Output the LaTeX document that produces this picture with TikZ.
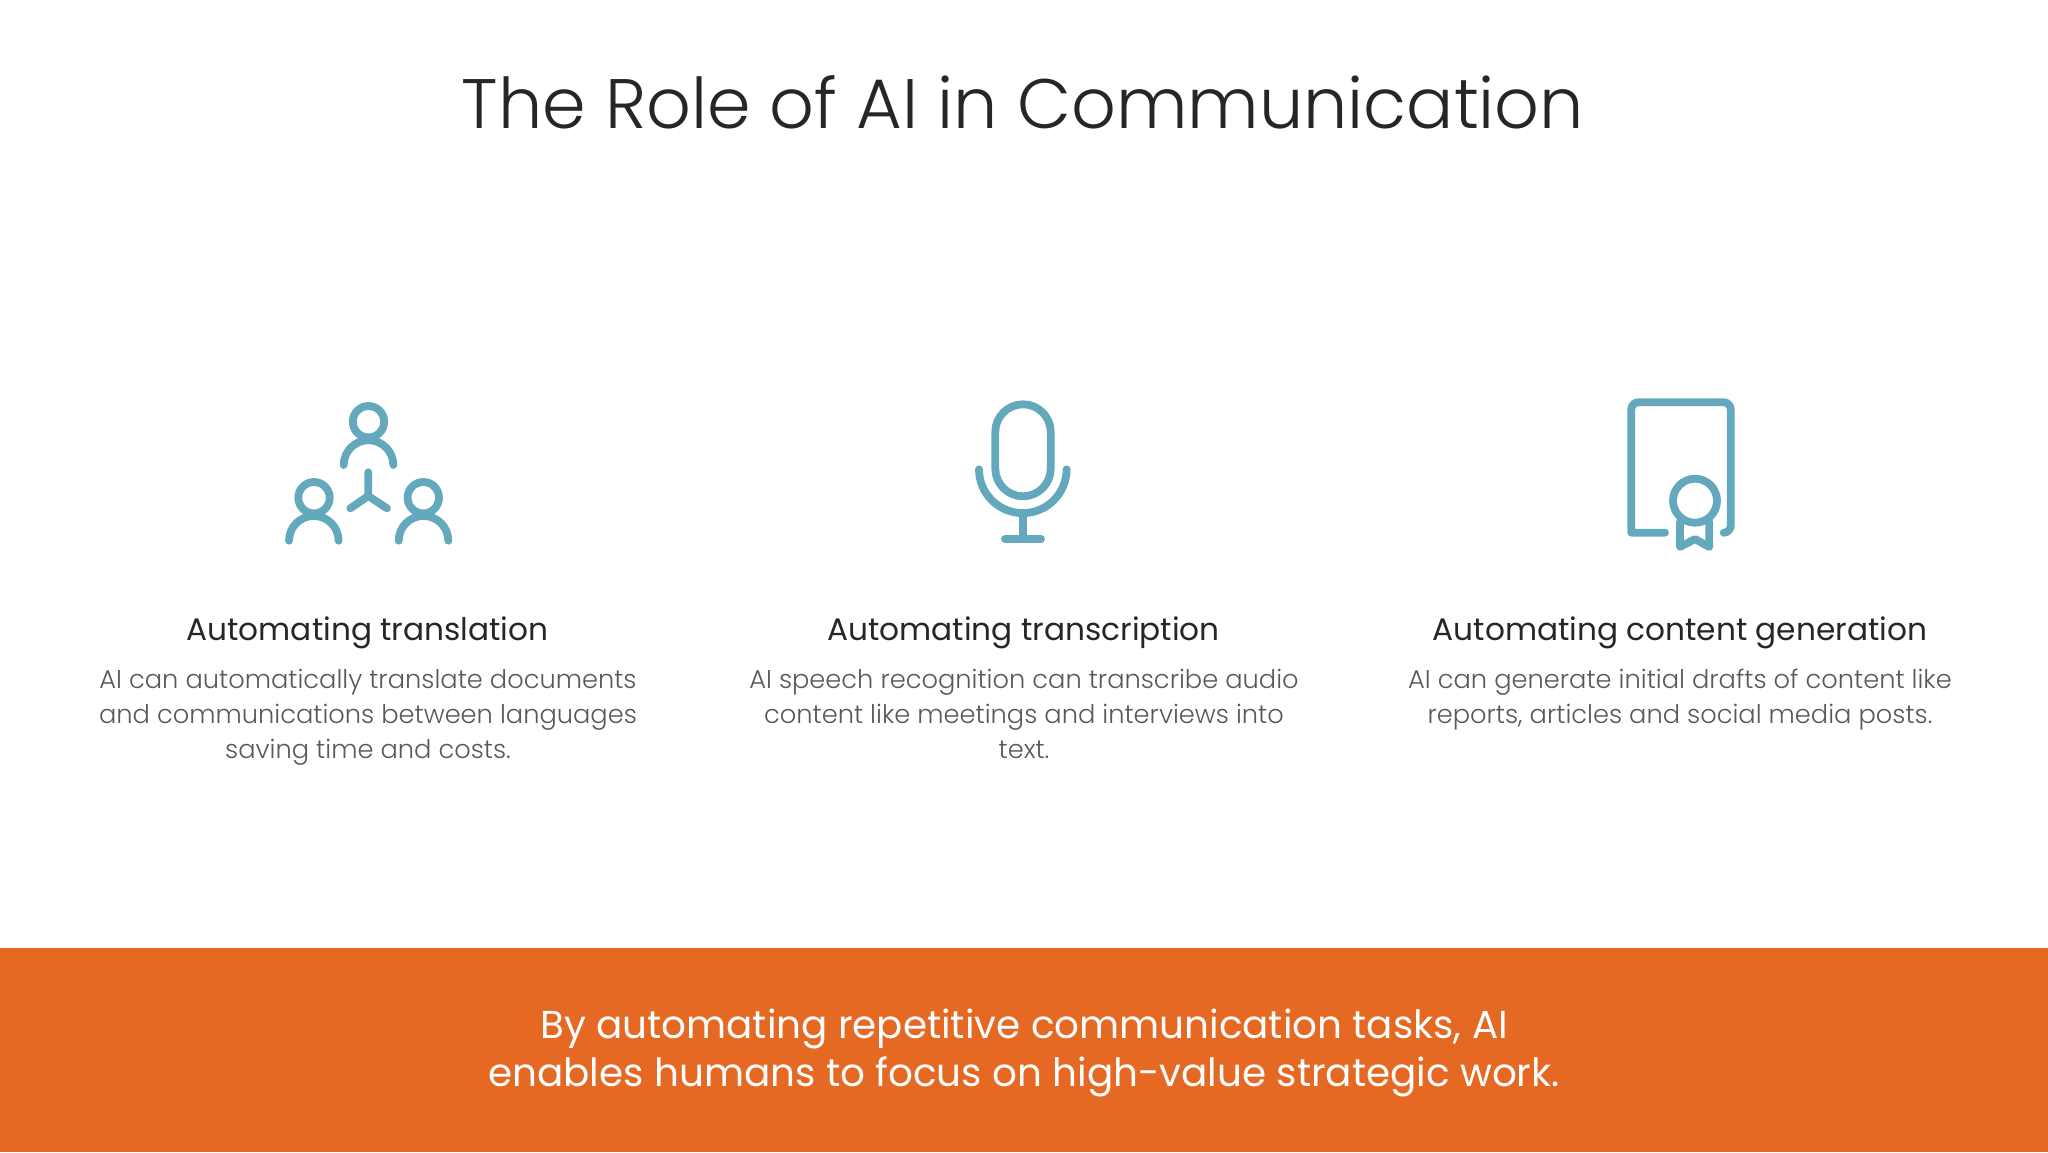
\documentclass[tikz,border=0pt]{standalone}
\usepackage{fontspec}
\setmainfont{Poppins}
\newfontfamily\lightfont{Poppins Light}
\definecolor{bandorange}{HTML}{E56823}
\definecolor{iconteal}{HTML}{64A8BE}
\definecolor{headgray}{HTML}{262626}
\definecolor{bodygray}{HTML}{595959}
\tikzset{
    icon/.style={draw=iconteal,line width=7.8pt,line cap=round,line join=round},
    heading/.style={text=headgray,font=\fontsize{31.2}{35}\selectfont,inner sep=0pt},
    body/.style={text=bodygray,font=\lightfont\fontsize{25.7}{35}\selectfont,align=center,inner sep=0pt,anchor=north}
}
\begin{document}
\begin{tikzpicture}[x=1pt,y=-1pt]
    \useasboundingbox (0,0) rectangle (2048,1152);
    \fill[bandorange] (0,948) rectangle (2048,1152);

    \node[text=headgray,font=\lightfont\fontsize{70}{80}\selectfont,inner sep=0pt] (title) at (1023,102) {The Role of AI in Communication};

    \node[heading] (headA) at (367.5,633) {Automating translation};
    \node[heading] (headB) at (1023.5,633) {Automating transcription};
    \node[heading] (headC) at (1680,633) {Automating content generation};

    \node[body] (bodyA) at (368,669) {AI can automatically translate documents\\and communications between languages\\saving time and costs.};
    \node[body] (bodyB) at (1024,669) {AI speech recognition can transcribe audio\\content like meetings and interviews into\\text.};
    \node[body] (bodyC) at (1680,669) {AI can generate initial drafts of content like\\reports, articles and social media posts.};

    \node[text=white,font=\fontsize{38.9}{47.5}\selectfont,align=center,inner sep=0pt] (footer) at (1024,1053) {By automating repetitive communication tasks, AI\\enables humans to focus on high-value strategic work.};

    % people
    \draw[icon] (368.5,421.7) circle (15.7);
    \draw[icon] (343.7,465) arc (180:360:24.8);
    \draw[icon] (314,497.7) circle (15.7);
    \draw[icon] (289,540.7) arc (180:360:24.8);
    \draw[icon] (423.3,497.7) circle (15.7);
    \draw[icon] (398.7,540.7) arc (180:360:24.8);
    \draw[icon] (368.3,472.3) -- (368.3,496) -- (350.3,508.3);
    \draw[icon] (368.3,496) -- (387,508.3);

    % microphone
    \draw[icon] (995.3,432) arc (180:360:27.7) -- (1050.7,468.6) arc (0:180:27.7) -- cycle;
    \draw[icon] (979,469.3) arc (180:0:43.8);
    \draw[icon] (1023,513) -- (1023,539);
    \draw[icon] (1005,539) -- (1041,539);

    % document
    \draw[icon] (1665,532.7) -- (1631.3,532.7) [rounded corners=7pt] -- (1631.3,402.3) -- (1730.7,402.3) -- (1730.7,532.7) [sharp corners] -- (1724,532.7);
    \draw[icon] (1695,500.7) circle (22);
    \draw[icon] (1680,522) -- (1680,547) -- (1695,539) -- (1709.3,547) -- (1709.3,522);
\end{tikzpicture}
\end{document}
